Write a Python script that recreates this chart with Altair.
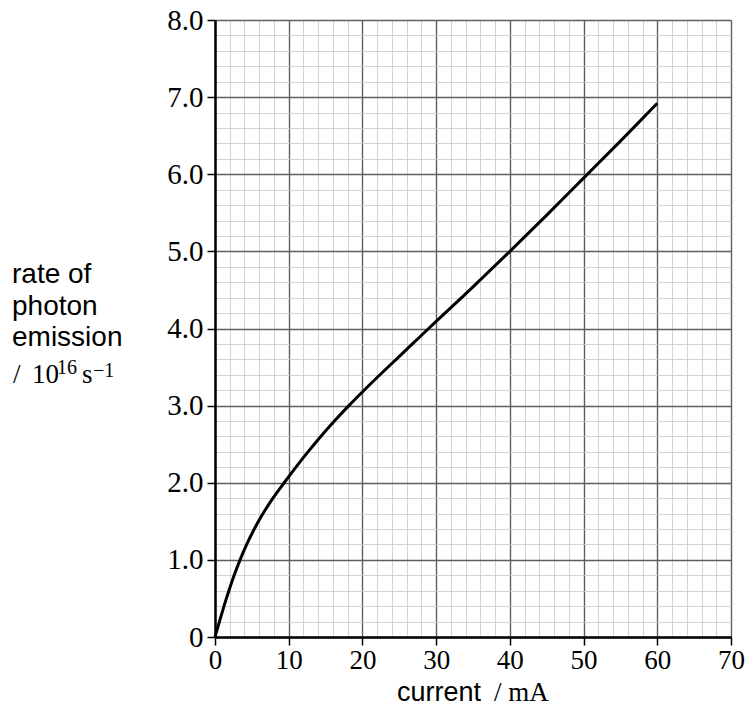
import altair as alt
import pandas as pd

# Values
current_mA = [0, 0.6, 1.22, 1.88, 2.6, 3.4, 4.3, 5.33, 6.51, 7.86, 9.38,
              10.96, 12.61, 14.35, 16.2, 18.16, 20.23, 22.38, 24.58, 26.78, 28.98,
              35, 40, 45, 50, 55, 60]
photon_rate = [0, 0.2, 0.4, 0.6, 0.8, 1.0, 1.2, 1.4, 1.6, 1.8, 2.0,
               2.2, 2.4, 2.6, 2.8, 3.0, 3.2, 3.4, 3.6, 3.8, 4.0,
               4.54, 5.0, 5.47, 5.95, 6.43, 6.92]

# Grid / tick values
x_ticks = list(range(0, 71, 2))
y_ticks = [round(i * 0.2, 1) for i in range(41)]

df = pd.DataFrame({"current": current_mA, "rate": photon_rate})

SANS = "Liberation Sans"
SERIF = "Liberation Serif"
MAJOR_COL = "#5e5e5e"
MINOR_COL = "#c8c8c8"

major_x = "datum.value % 10 === 0"
major_y = "abs(datum.value - round(datum.value)) < 0.001"


def axis(test, values, label_expr, size, pad):
    return alt.Axis(
        values=values,
        grid=True,
        gridColor={"condition": {"test": test, "value": MAJOR_COL}, "value": MINOR_COL},
        gridWidth={"condition": {"test": test, "value": 1.4}, "value": 0.8},
        tickOpacity={"condition": {"test": test, "value": 1}, "value": 0},
        tickSize=8,
        tickWidth=1.5,
        tickColor="black",
        domainColor="black",
        domainWidth=2.5,
        labelExpr=label_expr,
        labelFont=SERIF,
        labelFontSize=size,
        labelColor="black",
        labelOverlap=False,
        labelFlush=False,
        labelBound=False,
        labelPadding=pad,
        title=None,
    )


x_axis = axis(major_x, x_ticks, f"{major_x} ? datum.label : ''", 27, 2)
y_axis = axis(
    major_y,
    y_ticks,
    f"{major_y} ? (datum.value == 0 ? '0' : format(datum.value, '.1f')) : ''",
    29,
    4,
)

curve = (
    alt.Chart(df)
    .mark_line(color="black", strokeWidth=3, interpolate="monotone")
    .encode(
        x=alt.X("current:Q", scale=alt.Scale(domain=[0, 70], nice=False, zero=True), axis=x_axis),
        y=alt.Y("rate:Q", scale=alt.Scale(domain=[0, 8], nice=False, zero=True), axis=y_axis),
    )
)


def label(text, px, py, font, size, align="left"):
    return (
        alt.Chart(alt.Data(values=[{}]))
        .mark_text(text=text, font=font, fontSize=size, align=align,
                   baseline="alphabetic", color="black")
        .encode(x=alt.value(px), y=alt.value(py))
    )


labels = [
    label("rate of", -203, 263, SANS, 28),
    label("photon", -203, 295, SANS, 28),
    label("emission", -203, 326, SANS, 28),
    label("/", -202, 363, SERIF, 27),
    label("10", -183, 363, SERIF, 27),
    label("16", -158, 354, SERIF, 20),
    label("s", -133, 363, SERIF, 27),
    label("\u22121", -122, 357, SERIF, 20),
    label("current", 266, 681, SANS, 27, align="right"),
    label("/ mA", 279, 681, SERIF, 27),
]

chart = (
    alt.layer(curve, *labels)
    .properties(
        width=516,
        height=617,
        autosize=alt.AutoSizeParams(type="none"),
        padding={"left": 215, "top": 20, "right": 18, "bottom": 73},
        background="white",
    )
    .configure_view(strokeWidth=0)
)

chart.save("out.html", embed_options={"renderer": "svg", "actions": False})
